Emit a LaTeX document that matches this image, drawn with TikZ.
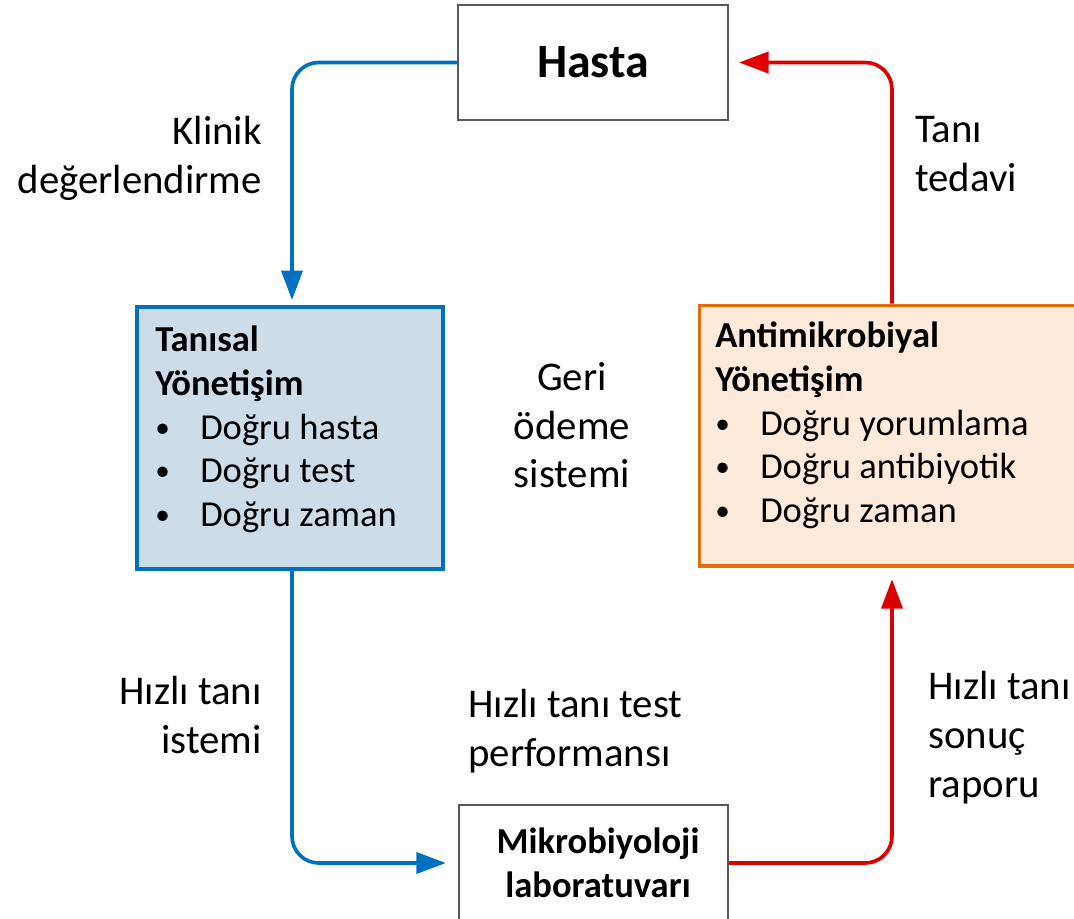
\documentclass[tikz,border=0pt]{standalone}
\usepackage{fontspec}
\setmainfont{Carlito}
\usepackage{xcolor}
\usepackage{tikz}
\usetikzlibrary{arrows.meta,calc,positioning}
\definecolor{kmavi}{RGB}{0,112,192}
\definecolor{kmaviacik}{RGB}{204,221,233}
\definecolor{kturuncu}{RGB}{228,108,10}
\definecolor{kturuncuacik}{RGB}{253,234,218}
\definecolor{kkirmizi}{RGB}{220,0,0}
\definecolor{kgri}{RGB}{89,89,89}
\newcommand{\madde}{\makebox[1.23em][l]{\raisebox{0.05em}{\scalebox{0.8}{•}}}}
\tikzset{
  kutu/.style={draw=kgri, line width=1.7pt, fill=white, minimum width=6.75cm, minimum height=2.875cm},
  mavikutu/.style={draw=kmavi, line width=2.8pt, fill=kmaviacik, minimum width=7.625cm, minimum height=6.55cm},
  turuncukutu/.style={draw=kturuncu, line width=2.8pt, fill=kturuncuacik, minimum width=9.76cm, minimum height=6.51cm},
  metin/.style={inner sep=0pt, font=\fontsize{29}{34.7}\selectfont},
  kutumetin/.style={inner sep=0pt, align=left, font=\fontsize{26}{31}\selectfont},
  maviok/.style={draw=kmavi, line width=2.6pt, rounded corners=19pt, ->},
  kirmiziok/.style={draw=kkirmizi, line width=2.6pt, rounded corners=19pt, ->}
}

\begin{document}
\begin{tikzpicture}[x=0.025cm, y=-0.025cm, >={Triangle[length=21pt,width=15pt]}]
    \useasboundingbox (0,0) rectangle (1074,919);
    \node (hasta) [kutu, font=\fontsize{34}{40}\selectfont\bfseries] at (593,62.5) {Hasta};
    \node (tanisal) [mavikutu] at (290,438) {};
    \node (antimik) [turuncukutu] at (894.75,435.75) {};
    \node (mikro) [kutu, minimum width=6.725cm, minimum height=3.375cm] at (593.5,872.5) {};
    \node (tanisalmetin) [kutumetin, anchor=north west] at (155,326)
    {\textbf{Tanısal}\\\textbf{Yönetişim}\\\madde Doğru hasta\\\madde Doğru test\\\madde Doğru zaman};
    \node (antimikmetin) [kutumetin, anchor=north west] at (715,322)
    {\textbf{Antimikrobiyal}\\\textbf{Yönetişim}\\\madde Doğru yorumlama\\\madde Doğru antibiyotik\\\madde Doğru zaman};
    \node (mikrometin) [kutumetin, align=center, font=\fontsize{26}{31}\selectfont\bfseries] at (598,863)
    {Mikrobiyoloji\\laboratuvarı};
    \node (klinik) [metin, align=right, anchor=north east] at (262,116) {Klinik\\değerlendirme};
    \node (tani) [metin, align=left, anchor=north west] at (915,116) {Tanı\\tedavi};
    \node (geri) [metin, align=center, anchor=north] at (572,362) {Geri\\ödeme\\sistemi};
    \node (istem) [metin, align=right, anchor=north east] at (262,676) {Hızlı tanı\\istemi};
    \node (perf) [metin, align=left, anchor=north west] at (468,689) {Hızlı tanı test\\performansı};
    \node (rapor) [metin, align=left, anchor=north west] at (928,671) {Hızlı tanı\\sonuç\\raporu};
    \coordinate (solx) at (292,0);
    \coordinate (sagx) at (892,0);
    \coordinate (alty) at (0,863);
    \draw[maviok, shorten >=3.5pt] (hasta.west) -| (tanisal.north -| solx);
    \draw[maviok, shorten >=8.5pt] (tanisal.south -| solx) |- (mikro.west |- alty);
    \draw[kirmiziok, shorten >=8pt] (mikro.east |- alty) -| (antimik.south -| sagx);
    \draw[kirmiziok, shorten >=7pt] (antimik.north -| sagx) |- (hasta.east);
\end{tikzpicture}
\end{document}
